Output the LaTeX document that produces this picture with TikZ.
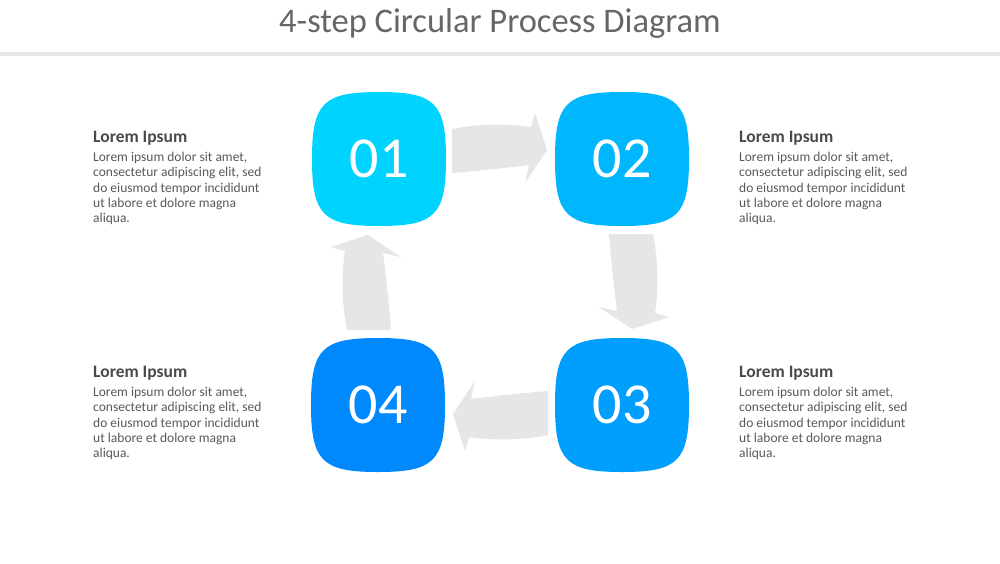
\documentclass[tikz,border=0pt]{standalone}
\usepackage{fontspec}
\setmainfont{Carlito}
\usetikzlibrary{positioning}

\definecolor{stepone}{HTML}{00D4FE}
\definecolor{steptwo}{HTML}{00B7FE}
\definecolor{stepthree}{HTML}{009FFE}
\definecolor{stepfour}{HTML}{0088FD}
\definecolor{arrowgray}{HTML}{E6E6E6}
\definecolor{rulegray}{HTML}{E6E6E6}
\definecolor{titlegray}{HTML}{666666}
\definecolor{headgray}{HTML}{4A4A4A}
\definecolor{bodygray}{HTML}{595959}

\def\squircle{(67,0) .. controls (67,56) and (56,67) .. (0,67) .. controls (-56,67) and (-67,56) .. (-67,0) .. controls (-67,-56) and (-56,-67) .. (0,-67) .. controls (56,-67) and (67,-56) .. (67,0) -- cycle}
\def\bentarrow{(452,129) .. controls (478,124) and (505,123) .. (531,127) -- (535,113) -- (547,150) -- (525,183) -- (529,165) .. controls (505,168) and (478,171) .. (452,173) -- cycle}

\begin{document}
\begin{tikzpicture}[x=1pt,y=-1pt,
    number/.style={text=white, inner sep=0pt, font=\fontsize{58}{60}\selectfont},
    heading/.style={text=headgray, inner sep=0pt, anchor=base west, font=\fontsize{17.5}{20}\selectfont\bfseries},
    bodytext/.style={text=bodygray, inner sep=0pt, align=left, font=\fontsize{13.5}{15.3}\selectfont}]
    \useasboundingbox (0,0) rectangle (1000,563);
    \fill[white] (0,0) rectangle (1000,563);

    % title and rule
    \node[text=titlegray, font=\fontsize{34.5}{38}\selectfont] (title) at (500,23) {4-step Circular Process Diagram};
    \fill[rulegray] (0,52) rectangle (1000,56);

    % bent arrows
    \fill[arrowgray] \bentarrow;
    \fill[arrowgray, rotate around={-90:(500,282)}] \bentarrow;
    \fill[arrowgray, rotate around={-180:(500,282)}] \bentarrow;
    \fill[arrowgray, rotate around={-270:(500,282)}] \bentarrow;

    % steps
    \fill[stepone, shift={(379,159)}] \squircle;
    \fill[steptwo, shift={(622,159)}] \squircle;
    \fill[stepthree, shift={(622,405)}] \squircle;
    \fill[stepfour, shift={(378,405)}] \squircle;

    \node[number] (s1) at (379,159) {01};
    \node[number] (s2) at (622,159) {02};
    \node[number] (s3) at (622,405) {03};
    \node[number] (s4) at (378,405) {04};

    % texts
    \node[heading] (h1) at (93,142) {Lorem Ipsum};
    \node[bodytext, below=7pt of h1.south west, anchor=north west] (b1) {Lorem ipsum dolor sit amet,\\consectetur adipiscing elit, sed\\do eiusmod tempor incididunt\\ut labore et dolore magna\\aliqua.};
    \node[heading] (h2) at (739,142) {Lorem Ipsum};
    \node[bodytext, below=7pt of h2.south west, anchor=north west] (b2) {Lorem ipsum dolor sit amet,\\consectetur adipiscing elit, sed\\do eiusmod tempor incididunt\\ut labore et dolore magna\\aliqua.};
    \node[heading] (h3) at (739,377) {Lorem Ipsum};
    \node[bodytext, below=7pt of h3.south west, anchor=north west] (b3) {Lorem ipsum dolor sit amet,\\consectetur adipiscing elit, sed\\do eiusmod tempor incididunt\\ut labore et dolore magna\\aliqua.};
    \node[heading] (h4) at (93,377) {Lorem Ipsum};
    \node[bodytext, below=7pt of h4.south west, anchor=north west] (b4) {Lorem ipsum dolor sit amet,\\consectetur adipiscing elit, sed\\do eiusmod tempor incididunt\\ut labore et dolore magna\\aliqua.};

  \end{tikzpicture}
\end{document}
